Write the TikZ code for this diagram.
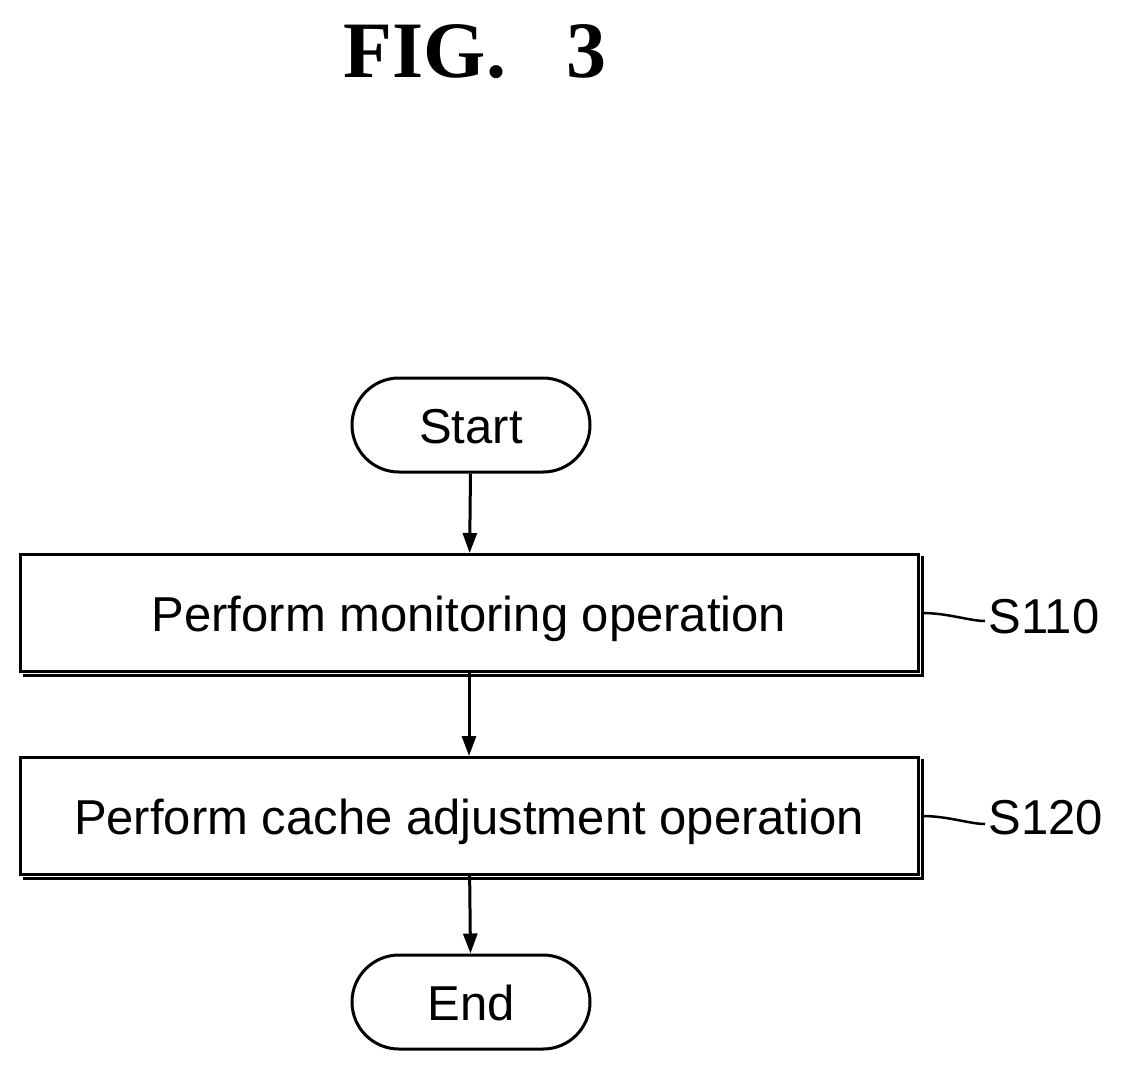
\documentclass[tikz,border=0pt]{standalone}
\usepackage{fontspec}
\setmainfont{Liberation Sans}
\newfontfamily\titlefont{Liberation Serif}
\usetikzlibrary{arrows.meta,shapes.misc}
\begin{document}
\begin{tikzpicture}[x=1pt,y=-1pt,
  box/.style={draw,line width=3pt,minimum width=898pt,minimum height=117pt,inner sep=0pt,
    font=\fontsize{49}{52}\selectfont,text depth=0pt, text height=36pt},
  term/.style={draw,line width=3pt,rounded rectangle,minimum width=238pt,minimum height=94pt,inner sep=0pt,
    font=\fontsize{49}{52}\selectfont,text depth=0pt, text height=36pt},
  arr/.style={line width=3pt,-{Triangle[length=20pt,width=14pt]}},
  lbl/.style={font=\fontsize{49}{52}\selectfont,anchor=west},
  wav/.style={line width=2.5pt}]
\useasboundingbox (0,0) rectangle (1121,1077);
\node[font=\titlefont\bfseries\fontsize{80}{84}\selectfont] (title) at (475,52) {FIG.\ \ \ 3};
\node[term] (start) at (471,425) {Start};
\node[box] (b1) at (469,613) {Perform monitoring operation};
\node[box] (b2) at (469,816) {Perform cache adjustment operation};
\node[term] (end) at (471,1002) {End};
\draw[line width=3.5pt] ([xshift=3pt,yshift=-3pt]b1.north east) -- ([xshift=3pt,yshift=-2.5pt]b1.south east) -- ([xshift=4pt,yshift=-2.5pt]b1.south west);
\draw[line width=3.5pt] ([xshift=3pt,yshift=-3pt]b2.north east) -- ([xshift=3pt,yshift=-2.5pt]b2.south east) -- ([xshift=4pt,yshift=-2.5pt]b2.south west);
\draw[arr] (start) -- (b1);
\draw[arr] (b1) -- (b2);
\draw[arr] (b2) -- (end);
\node[lbl] (s110) at (985,617) {S110};
\node[lbl] (s120) at (985,818) {S120};
\draw[wav] (b1.east) ++(3,0) coordinate (w1) .. controls +(25,0) and +(-15,0) .. ([yshift=-8pt]w1 -| s110.west);
\draw[wav] (b2.east) ++(3,0) coordinate (w2) .. controls +(25,0) and +(-15,0) .. ([yshift=-8pt]w2 -| s120.west);
\end{tikzpicture}
\end{document}
